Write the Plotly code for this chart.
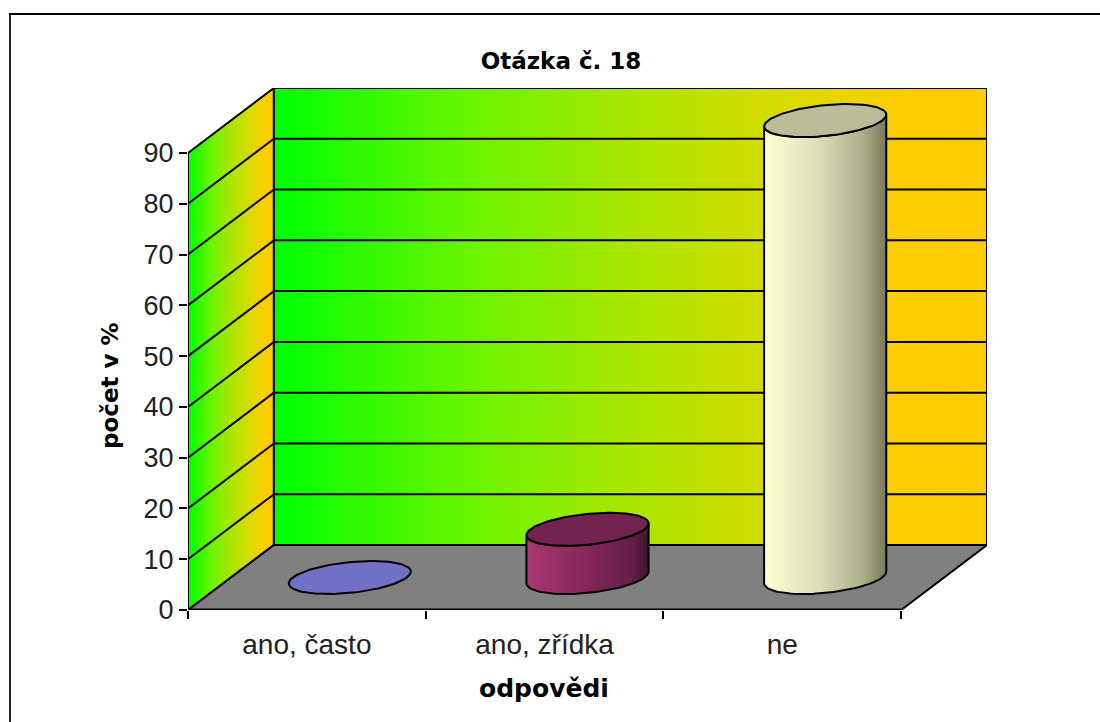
import numpy as np
import plotly.graph_objs as go

# values
categories = ['ano, často', 'ano, zřídka', 'ne']
values = [0, 9.5, 90]
y_ticks = [0, 10, 20, 30, 40, 50, 60, 70, 80, 90]

# body shading left to right, lid colour
shades = [
    [[0, '#7070c4'], [1, '#7070c4']],
    [[0, '#a8396f'], [0.5, '#84265a'], [0.85, '#662048'], [1, '#3f1430']],
    [[0, '#ffffd2'], [0.45, '#dcdcb8'], [0.8, '#b0b08c'], [1, '#78785c']],
]
tops = ['#7070c4', '#72234f', '#bcbc98']

wall_grad = [[0, '#00ff00'], [0.25, '#62f500'], [0.5, '#aae600'], [0.75, '#e0d800'],
             [0.88, '#fccd00'], [1, '#ffcc00']]
font = 'Liberation Sans'
bold_font = 'DejaVu Sans'

# oblique depth offset, in axis units
DX = 86 / 238
DY = 65 / 5.078
# cylinder radius along x and along depth
RX = 0.24
RD = 0.254


def proj(x, y, d):
    return x + d * DX, y + d * DY


def poly(xs, ys, fill, grad=None, start=None, stop=None, line='black', width=2):
    tr = go.Scatter(x=xs, y=ys, mode='lines', fill='toself', hoverinfo='skip',
                    line=dict(color=line, width=width), showlegend=False)
    if grad is not None:
        tr.fillgradient = dict(type='horizontal', colorscale=grad, start=start, stop=stop)
    else:
        tr.fillcolor = fill
    return tr


def seg(p0, p1, width=2):
    return go.Scatter(x=[p0[0], p1[0]], y=[p0[1], p1[1]], mode='lines', hoverinfo='skip',
                      line=dict(color='black', width=width), showlegend=False)


def cylinder(i, val):
    cx = i + 0.5
    half = np.hypot(RX, RD * DX)
    t0 = np.arctan2(RD * DX, RX)
    out = []

    def arc(t, y):
        return proj(cx + RX * np.cos(t), y, 0.5 + RD * np.sin(t))

    front = np.linspace(t0 + np.pi, t0 + 2 * np.pi, 60)
    if val > 0:
        xt, yt = arc(front, val)
        xb, yb = arc(front[::-1], 0)
        x0 = cx + 0.5 * DX
        out.append(poly(np.r_[xt, xb, xt[0]], np.r_[yt, yb, yt[0]], None, shades[i],
                        x0 - half, x0 + half))
    xl, yl = arc(np.linspace(0, 2 * np.pi, 120), val)
    out.append(poly(xl, yl, tops[i]))
    return out


traces = []
top = y_ticks[-1]

# walls
xs, ys = proj(np.array([0, 0, 0, 0, 0]), np.array([0, top, top, 0, 0]), np.array([0, 0, 1, 1, 0]))
traces.append(poly(xs, ys, None, wall_grad, 0, DX))
xs, ys = proj(np.array([0, 3, 3, 0, 0]), np.array([0, 0, top, top, 0]), np.ones(5))
traces.append(poly(xs, ys, None, wall_grad, DX, 3 + DX))

# grid lines, side wall then back wall
for v in y_ticks[1:-1]:
    traces.append(seg(proj(0, v, 0), proj(0, v, 1)))
    traces.append(seg(proj(0, v, 1), proj(3, v, 1)))

# floor
xs, ys = proj(np.array([0, 3, 3, 0, 0]), np.zeros(5), np.array([0, 0, 1, 1, 0]))
traces.append(poly(xs, ys, '#808080'))
traces.append(seg(proj(0, 0, 0), proj(3, 0, 0), 3))

for i, val in enumerate(values):
    traces.extend(cylinder(i, val))

fig = go.Figure(data=traces)

W, H = 1100, 722
ml, mr, mt, mb = 188, 113, 88, 112
pw, ph = W - ml - mr, H - mt - mb


def px(x):
    return (x - ml) / pw


def py(y):
    return (H - mb - y) / ph


fig.update_layout(
    width=W, height=H,
    margin=dict(l=ml, r=mr, t=mt, b=mb),
    paper_bgcolor='white', plot_bgcolor='white',
    title=dict(text='<b>Otázka č. 18</b>', x=561 / W, xanchor='center', y=1 - 61 / H, yanchor='middle',
               font=dict(family=bold_font, size=23, color='black')),
    xaxis=dict(range=[0, 3 + DX], showgrid=False, zeroline=False, showline=False,
               tickmode='array', tickvals=[0.5, 1.5, 2.5], ticktext=categories,
               ticks='outside', ticklen=9, tickcolor='rgba(0,0,0,0)',
               tickfont=dict(family=font, size=28, color='#222222'),
               minor=dict(tickmode='array', tickvals=[0, 1, 2, 3], ticks='outside',
                          ticklen=8, tickcolor='black', tickwidth=2, showgrid=False)),
    yaxis=dict(range=[0, top + DY], showgrid=False, zeroline=False, showline=False,
               tickmode='array', tickvals=y_ticks, ticks='outside', ticklen=8,
               tickcolor='black', tickwidth=2,
               tickfont=dict(family=font, size=27, color='#222222')),
    annotations=[
        dict(text='<b>odpovědi</b>', x=px(544), y=py(688), xref='paper', yref='paper', showarrow=False,
             xanchor='center', yanchor='middle', font=dict(family=bold_font, size=25, color='black')),
        dict(text='<b>počet v %</b>', x=px(110), y=py(386), xref='paper', yref='paper', showarrow=False,
             xanchor='center', yanchor='middle', textangle=-90,
             font=dict(family=bold_font, size=23, color='black')),
    ],
    shapes=[
        dict(type='line', xref='paper', yref='paper', x0=px(9), x1=px(W), y0=py(14), y1=py(14),
             line=dict(color='black', width=2)),
        dict(type='line', xref='paper', yref='paper', x0=px(10), x1=px(10), y0=py(14), y1=py(H),
             line=dict(color='#222222', width=2)),
    ],
)

fig.write_html("out.html", config={'displayModeBar': False},
               post_script="document.body.style.margin='0';document.body.style.overflow='hidden';")
